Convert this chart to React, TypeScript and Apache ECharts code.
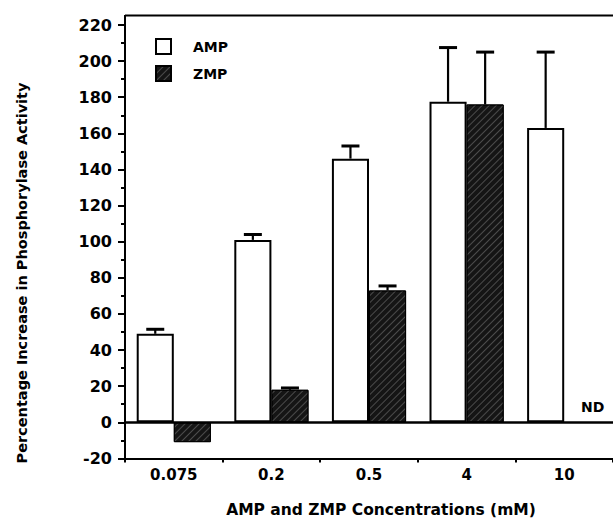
import React, { useEffect, useRef } from "react";
import * as echarts from "echarts";

const categories = ["0.075", "0.2", "0.5", "4", "10"];
const ampValues = [49, 101, 146, 177.5, 163];
const ampErrors = [2.5, 3, 7, 30, 42];
const zmpValues: (number | null)[] = [-11, 18, 73, 176, null];
const zmpErrors: (number | null)[] = [null, 1, 2.5, 29, null];
const yTicks = { min: -20, max: 220, interval: 20 };

const FONT = "DejaVu Sans";

export default function App() {
  const ref = useRef<HTMLDivElement>(null);
  useEffect(() => {
    if (!ref.current) return;
    const chart = echarts.init(ref.current, null, { renderer: "svg" });

    const barShare = 0.76;
    const errData = (vals: (number | null)[], errs: (number | null)[]) =>
      vals
        .map((v, i) => (v != null && errs[i] != null ? [i, v, v + (errs[i] as number)] : null))
        .filter((d) => d !== null);

    const errSeries = (name: string, side: number, vals: (number | null)[], errs: (number | null)[]) => ({
      type: "custom",
      name,
      z: 5,
      data: errData(vals, errs),
      renderItem: (params: any, api: any) => {
        const idx = api.value(0);
        const band = api.size([1, 0])[0];
        const off = (side * band * barShare) / 4;
        const base = api.coord([idx, api.value(1)]);
        const top = api.coord([idx, api.value(2)]);
        const x = base[0] + off;
        return {
          type: "group",
          children: [
            { type: "line", shape: { x1: x, y1: base[1], x2: x, y2: top[1] }, style: { stroke: "#000", lineWidth: 2.2 } },
            { type: "line", shape: { x1: x - 9, y1: top[1], x2: x + 9, y2: top[1] }, style: { stroke: "#000", lineWidth: 3 } },
          ],
        };
      },
    });

    chart.setOption({
      animation: false,
      backgroundColor: "#fff",
      grid: { left: 125, top: 25, bottom: 65.6, width: 494.5, containLabel: false },
      legend: {
        orient: "vertical",
        left: 155,
        top: 38,
        padding: 0,
        itemWidth: 15,
        itemHeight: 15,
        itemGap: 10,
        data: ["AMP", "ZMP"],
        textStyle: { fontFamily: FONT, fontWeight: "bold", fontSize: 14, color: "#000", padding: [0, 0, 0, 17] },
        icon: "rect",
      },
      xAxis: {
        type: "category",
        data: categories,
        axisLine: { onZero: false, lineStyle: { color: "#000", width: 2 } },
        axisTick: { show: true, length: 4, lineStyle: { color: "#000", width: 2 } },
        axisLabel: { fontFamily: FONT, fontWeight: "bold", fontSize: 15, color: "#000", margin: 9 },
        splitLine: { show: false },
      },
      yAxis: {
        type: "value",
        min: yTicks.min,
        max: yTicks.max,
        interval: yTicks.interval,
        axisLine: { show: true, lineStyle: { color: "#000", width: 2 } },
        axisTick: { show: true, length: 7, lineStyle: { color: "#000", width: 2 } },
        minorTick: { show: true, splitNumber: 2, length: 4, lineStyle: { color: "#000", width: 2 } },
        axisLabel: { fontFamily: FONT, fontWeight: "bold", fontSize: 16, color: "#000", margin: 13 },
        splitLine: { show: false },
      },
      graphic: [
        { type: "line", shape: { x1: 125, y1: 15.5, x2: 613, y2: 15.5 }, style: { stroke: "#000", lineWidth: 2 } },
        { type: "line", shape: { x1: 125, y1: 15, x2: 125, y2: 26 }, style: { stroke: "#000", lineWidth: 2 } },
        {
          type: "text",
          x: 22,
          y: 273,
          rotation: Math.PI / 2,
          style: {
            text: "Percentage Increase in Phosphorylase Activity",
            font: `bold 14.5px "${FONT}"`,
            fill: "#000",
            align: "center",
            verticalAlign: "middle",
          },
        },
        {
          type: "text",
          x: 381,
          y: 510,
          style: {
            text: "AMP and ZMP Concentrations (mM)",
            font: `bold 15.5px "${FONT}"`,
            fill: "#000",
            align: "center",
            verticalAlign: "middle",
          },
        },
      ],
      series: [
        {
          type: "bar",
          name: "AMP",
          data: ampValues,
          barGap: "0%",
          barCategoryGap: "24%",
          itemStyle: { color: "#fff", borderColor: "#000", borderWidth: 2 },
        },
        {
          type: "bar",
          name: "ZMP",
          data: zmpValues.map((v) =>
            v == null
              ? {
                  value: 0,
                  itemStyle: { color: "transparent", borderWidth: 0, decal: "none" },
                  label: {
                    show: true,
                    position: "top",
                    distance: 8,
                    offset: [10, 0],
                    formatter: "ND",
                    fontFamily: FONT,
                    fontWeight: "bold",
                    fontSize: 14,
                    color: "#000",
                  },
                }
              : v
          ),
          itemStyle: {
            color: "#151515",
            borderColor: "#000",
            borderWidth: 1,
            decal: {
              symbol: "rect",
              symbolSize: 1,
              dashArrayX: [1, 0],
              dashArrayY: [1, 4],
              rotation: -Math.PI / 4,
              color: "rgba(120,120,120,0.55)",
            },
          },
          markLine: {
            silent: true,
            symbol: "none",
            label: { show: false },
            lineStyle: { color: "#000", width: 2.5, type: "solid" },
            data: [{ yAxis: 0 }],
          },
        },
        errSeries("AMP err", -1, ampValues, ampErrors),
        errSeries("ZMP err", 1, zmpValues, zmpErrors),
      ],
    });
    return () => chart.dispose();
  }, []);
  return <div ref={ref} style={{ width: 613, height: 524, position: "absolute", left: 0, top: 0 }} />;
}
